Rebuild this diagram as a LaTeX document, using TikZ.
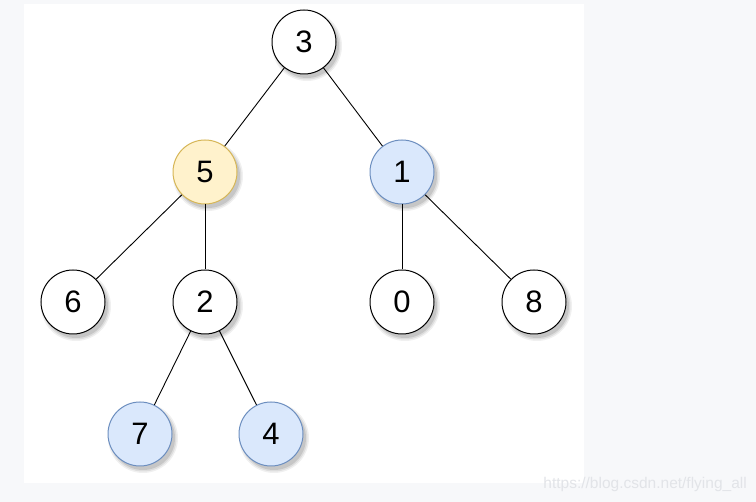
\documentclass[tikz,border=0pt]{standalone}
\usepackage{fontspec}
\setmainfont{Liberation Sans}
\definecolor{pagebg}{HTML}{F7F8FA}
\definecolor{yfill}{HTML}{FFF2CC}
\definecolor{ydraw}{HTML}{D6B656}
\definecolor{bfill}{HTML}{DAE8FC}
\definecolor{bdraw}{HTML}{6C8EBF}
\definecolor{wmark}{HTML}{E2E4E8}
\begin{document}
\begin{tikzpicture}[x=1pt,y=-1pt,
  tnode/.style={circle,draw=black,fill=white,line width=1pt,minimum size=64pt,inner sep=0pt,font=\fontsize{31}{31}\selectfont},
  ynode/.style={tnode,draw=ydraw,fill=yfill},
  bnode/.style={tnode,draw=bdraw,fill=bfill},
  edge/.style={draw=black,line width=0.9pt}]
\useasboundingbox (0,0) rectangle (756,502);
\fill[pagebg] (0,0) rectangle (756,502);
\fill[white] (24,4) rectangle (584,483);
\node[font=\fontsize{15.5}{15.5}\selectfont,text=wmark,anchor=east,inner sep=0pt] (wm) at (747,484) {https://blog.csdn.net/flying\_all};
% shadows
\foreach \x/\y in {304/42,205/172,402/172,73/302,205/302,402/302,534/302,140/434,271/434}{
  \fill[black,opacity=0.06] (\x+3,\y+4) circle (35);
  \fill[black,opacity=0.08] (\x+3,\y+4) circle (33.5);
  \fill[black,opacity=0.10] (\x+3,\y+4) circle (32);
}
\node[tnode] (n3) at (304,42) {3};
\node[ynode] (n5) at (205,172) {5};
\node[bnode] (n1) at (402,172) {1};
\node[tnode] (n6) at (73,302) {6};
\node[tnode] (n2) at (205,302) {2};
\node[tnode] (n0) at (402,302) {0};
\node[tnode] (n8) at (534,302) {8};
\node[bnode] (n7) at (140,434) {7};
\node[bnode] (n4) at (271,434) {4};
\path[edge] (n3) -- (n5);
\path[edge] (n3) -- (n1);
\path[edge] (n5) -- (n6);
\path[edge] (n5) -- (n2);
\path[edge] (n1) -- (n0);
\path[edge] (n1) -- (n8);
\path[edge] (n2) -- (n7);
\path[edge] (n2) -- (n4);
\end{tikzpicture}
\end{document}
